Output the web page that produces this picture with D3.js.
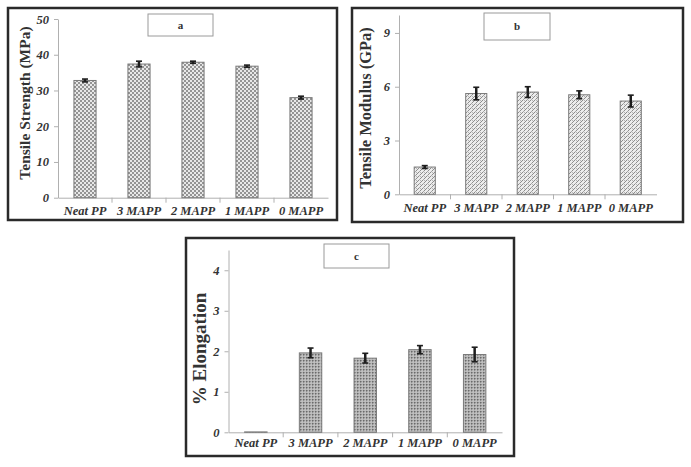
<!DOCTYPE html>
<html>
<head>
<meta charset="utf-8">
<script src="https://cdn.jsdelivr.net/npm/d3@7"></script>
<style>
  html, body { margin: 0; padding: 0; background: #fff; }
  svg { display: block; }
  text { font-family: 'Liberation Serif', 'Times New Roman', serif; }
</style>
</head>
<body>
<svg id="chart" width="691" height="467"></svg>
<script>
// ---------- data ----------
const categories = ["Neat PP", "3 MAPP", "2 MAPP", "1 MAPP", "0 MAPP"];
const strengthValues = [32.8, 37.4, 37.9, 36.8, 28.0];
const strengthErrors = [0.4, 0.8, 0.3, 0.3, 0.4];
const strengthTicks = [0, 10, 20, 30, 40, 50];
const modulusValues = [1.52, 5.62, 5.7, 5.55, 5.2];
const modulusErrors = [0.08, 0.35, 0.3, 0.22, 0.33];
const modulusTicks = [0, 3, 6, 9];
const elongationValues = [0.01, 1.96, 1.83, 2.04, 1.92];
const elongationErrors = [0, 0.12, 0.12, 0.1, 0.18];
const elongationTicks = [0, 1, 2, 3, 4];
const panelLabels = ["a", "b", "c"];
const yTitles = ["Tensile Strength (MPa)", "Tensile Modulus (GPa)", "% Elongation"];

const FONT = "'Liberation Serif', 'Times New Roman', serif";

// ---------- setup ----------
const svg = d3.select("#chart");
svg.append("rect").attr("width", 691).attr("height", 467).attr("fill", "#fff");
const defs = svg.append("defs");

// checkerboard (a)
const pa = defs.append("pattern").attr("id", "patA").attr("patternUnits", "userSpaceOnUse")
  .attr("width", 4).attr("height", 4);
pa.append("rect").attr("width", 4).attr("height", 4).attr("fill", "#e8e8e8");
pa.append("rect").attr("width", 2).attr("height", 2).attr("fill", "#949494");
pa.append("rect").attr("x", 2).attr("y", 2).attr("width", 2).attr("height", 2).attr("fill", "#949494");

// fine diagonal texture (b)
const pb = defs.append("pattern").attr("id", "patB").attr("patternUnits", "userSpaceOnUse")
  .attr("width", 4).attr("height", 4);
pb.append("rect").attr("width", 4).attr("height", 4).attr("fill", "#ececec");
pb.append("rect").attr("x", 0).attr("y", 2).attr("width", 1).attr("height", 1).attr("fill", "#8c8c8c");
pb.append("rect").attr("x", 1).attr("y", 1).attr("width", 1).attr("height", 1).attr("fill", "#8c8c8c");
pb.append("rect").attr("x", 2).attr("y", 0).attr("width", 1).attr("height", 1).attr("fill", "#8c8c8c");
pb.append("rect").attr("x", 3).attr("y", 3).attr("width", 1).attr("height", 1).attr("fill", "#a8a8a8");
pb.append("rect").attr("x", 0).attr("y", 0).attr("width", 1).attr("height", 1).attr("fill", "#b4b4b4");

// stipple (c)
const pc = defs.append("pattern").attr("id", "patC").attr("patternUnits", "userSpaceOnUse")
  .attr("width", 3).attr("height", 3);
pc.append("rect").attr("width", 3).attr("height", 3).attr("fill", "#b4b4b4");
pc.append("rect").attr("x", 0).attr("y", 0).attr("width", 1.5).attr("height", 1.5).attr("fill", "#6a6a6a");
pc.append("rect").attr("x", 1.5).attr("y", 1.5).attr("width", 1).attr("height", 1).attr("fill", "#e4e4e4");

const panels = [
  { values: strengthValues, errors: strengthErrors, ticks: strengthTicks, yMax: 50, pattern: "patA",
    frame: [8, 8, 329, 212], left: 58, right: 328, top: 19, bottom: 197.7,
    box: [148, 14, 65, 22], labelX: 25, labelY: 103, labelSize: 15.5, xLabelDy: 17 },
  { values: modulusValues, errors: modulusErrors, ticks: modulusTicks, yMax: 10, pattern: "patB",
    frame: [352, 8, 331, 214], left: 399, right: 656.5, top: 15, bottom: 194.3,
    box: [484, 13, 66, 27], labelX: 365, labelY: 108, labelSize: 16.5, xLabelDy: 18 },
  { values: elongationValues, errors: elongationErrors, ticks: elongationTicks, yMax: 4.5, pattern: "patC",
    frame: [186, 238, 328, 218], left: 228.5, right: 502, top: 250, bottom: 432.3,
    box: [324, 244, 65, 24], labelX: 199, labelY: 349, labelSize: 19, xLabelDy: 15 }
];

panels.forEach((p, pi) => {
  const g = svg.append("g");

  // frame
  g.append("rect").attr("x", p.frame[0]).attr("y", p.frame[1])
    .attr("width", p.frame[2]).attr("height", p.frame[3])
    .attr("fill", "#fff").attr("stroke", "#2a2a2a").attr("stroke-width", 2.5);

  const x = d3.scaleBand().domain(categories).range([p.left, p.right])
    .paddingInner(0.59).paddingOuter(0.295);
  const y = d3.scaleLinear().domain([0, p.yMax]).range([p.bottom, p.top]);

  // y axis
  const yAxis = g.append("g").attr("transform", `translate(${p.left},0)`)
    .call(d3.axisLeft(y).tickValues(p.ticks).tickSize(4).tickSizeOuter(0).tickFormat(d3.format("d")));
  yAxis.select(".domain").attr("stroke", "#b0b0b0");
  yAxis.selectAll(".tick line").attr("stroke", "#b0b0b0");
  yAxis.selectAll(".tick text").attr("x", -9)
    .attr("font-family", FONT)
    .attr("font-weight", "bold").attr("font-style", "italic").attr("font-size", 12.5)
    .attr("fill", "#333");

  // x axis line
  const xAxis = g.append("g").attr("transform", `translate(0,${p.bottom})`)
    .call(d3.axisBottom(x).tickSize(0).tickSizeOuter(0));
  xAxis.select(".domain").attr("stroke", "#b0b0b0");
  xAxis.selectAll(".tick text").attr("y", p.xLabelDy).attr("dy", 0)
    .attr("font-family", FONT)
    .attr("font-weight", "bold").attr("font-style", "italic").attr("font-size", 12.5)
    .attr("fill", "#333");
  // boundary tick marks between categories
  const gap = (x.step() - x.bandwidth()) / 2;
  g.selectAll(".bt").data(categories.slice(1)).enter().append("line")
    .attr("x1", d => x(d) - gap)
    .attr("x2", d => x(d) - gap)
    .attr("y1", p.bottom).attr("y2", p.bottom + 5)
    .attr("stroke", "#b0b0b0");

  // bars
  g.selectAll(".bar").data(p.values).enter().append("rect")
    .attr("x", (d, i) => x(categories[i]))
    .attr("y", d => y(d))
    .attr("width", x.bandwidth())
    .attr("height", d => Math.max(0, y(0) - y(d)))
    .attr("fill", `url(#${p.pattern})`)
    .attr("stroke", "#7a7a7a").attr("stroke-width", 1);

  // error bars
  p.values.forEach((v, i) => {
    const e = p.errors[i];
    if (e <= 0) return;
    const cx = x(categories[i]) + x.bandwidth() / 2;
    const eg = g.append("g").attr("stroke", "#1e1e1e").attr("stroke-width", 2.5);
    eg.append("line").attr("x1", cx).attr("x2", cx).attr("y1", y(v - e)).attr("y2", y(v + e));
    eg.append("line").attr("x1", cx - 3).attr("x2", cx + 3).attr("y1", y(v - e)).attr("y2", y(v - e)).attr("stroke-width", 1.6);
    eg.append("line").attr("x1", cx - 3).attr("x2", cx + 3).attr("y1", y(v + e)).attr("y2", y(v + e)).attr("stroke-width", 1.6);
  });

  // title box
  g.append("rect").attr("x", p.box[0]).attr("y", p.box[1])
    .attr("width", p.box[2]).attr("height", p.box[3])
    .attr("fill", "#fff").attr("stroke", "#9a9a9a").attr("stroke-width", 1);
  g.append("text").attr("x", p.box[0] + p.box[2] / 2).attr("y", p.box[1] + p.box[3] / 2)
    .attr("dy", "0.35em").attr("text-anchor", "middle")
    .attr("font-family", FONT)
    .attr("font-weight", "bold").attr("font-size", 11).attr("fill", "#333")
    .text(panelLabels[pi]);

  // y title
  g.append("text")
    .attr("transform", `translate(${p.labelX},${p.labelY}) rotate(-90)`)
    .attr("text-anchor", "middle").attr("dy", "0.35em")
    .attr("font-family", FONT)
    .attr("font-weight", "bold").attr("font-size", p.labelSize).attr("fill", "#333")
    .text(yTitles[pi]);
});
</script>
</body>
</html>
